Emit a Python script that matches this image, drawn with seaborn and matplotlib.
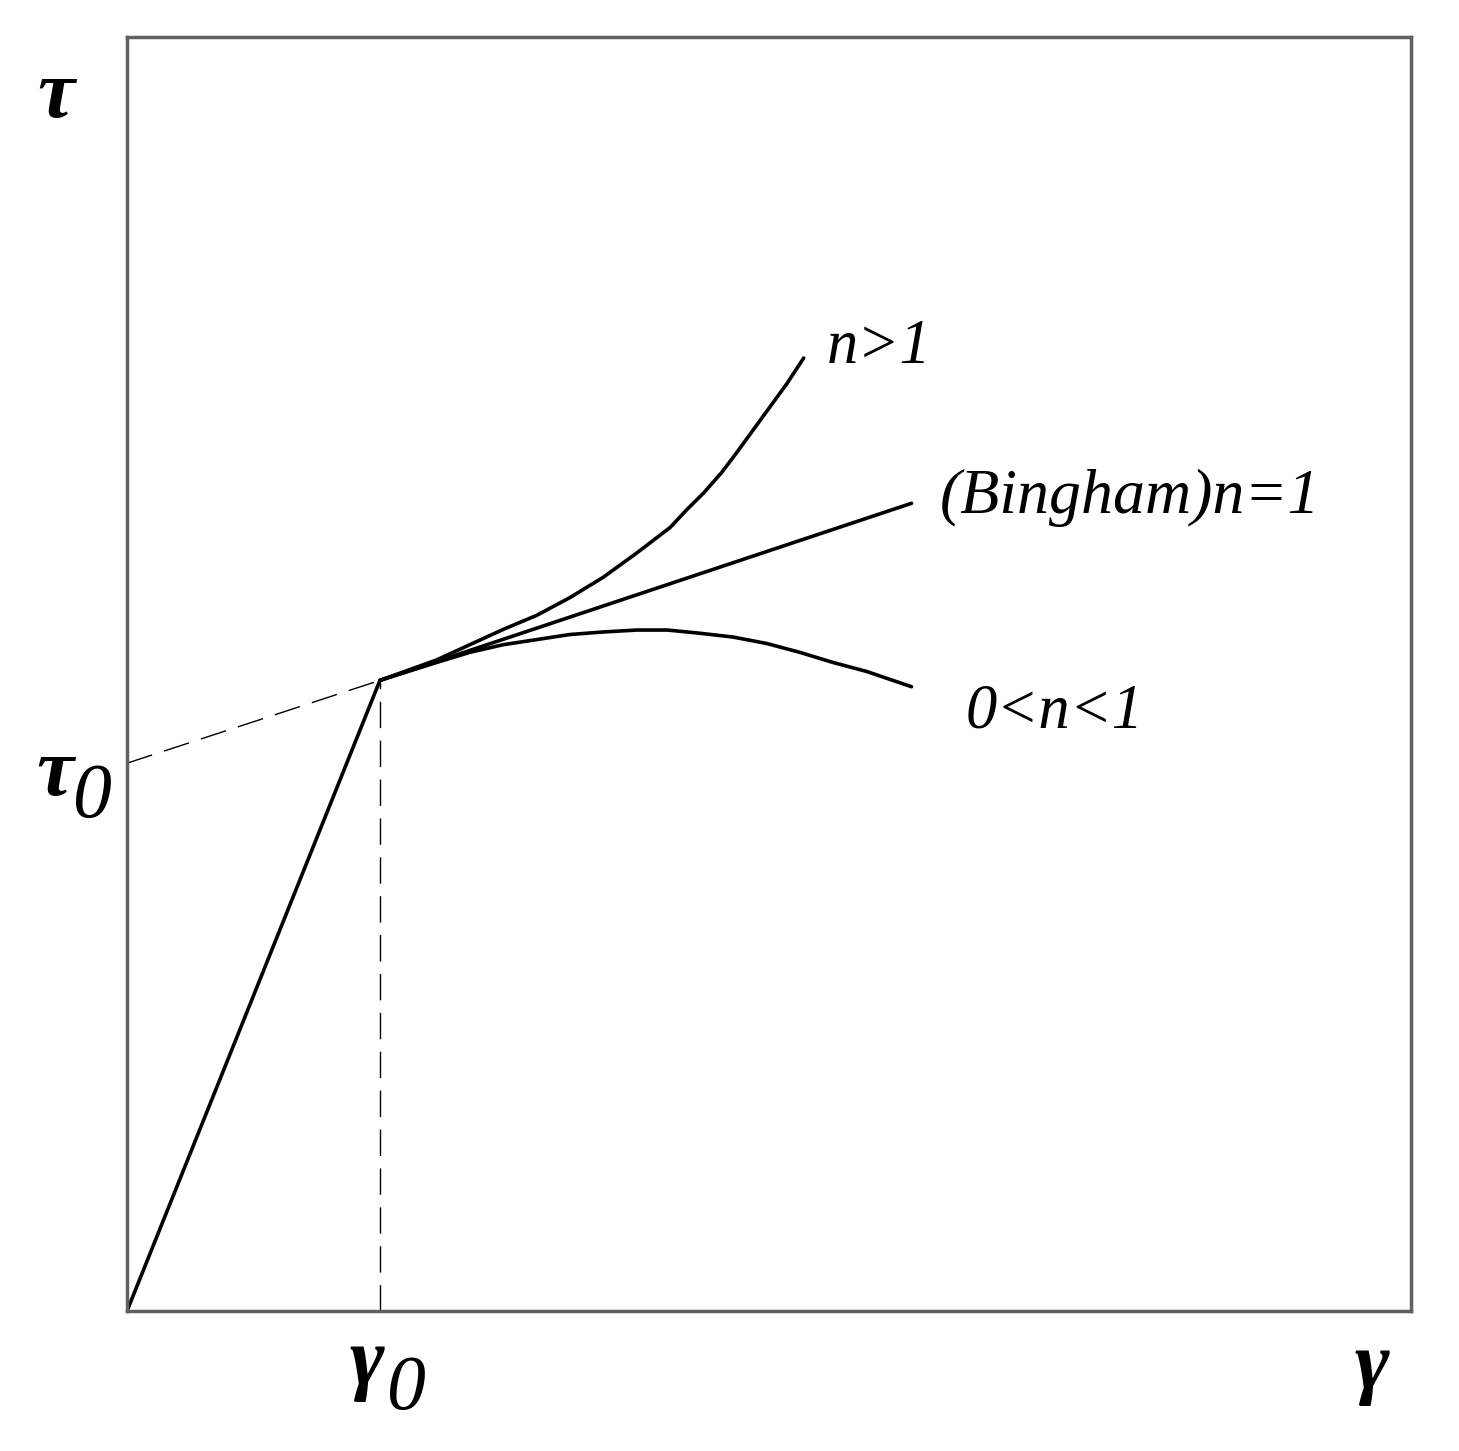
import numpy as np
import pandas as pd
import matplotlib
matplotlib.use("Agg")
import matplotlib.pyplot as plt
import seaborn as sns

# flow curve data (arbitrary units, 0-10 on both axes)
gamma0 = 1.97
tau_yield = 4.95
tau0 = 4.30

elastic_x = [0.0, gamma0]
elastic_y = [0.0, tau_yield]

bingham_x = [gamma0, 6.11]
bingham_y = [tau_yield, 6.34]

thick_x = [gamma0, 2.41, 2.67, 2.93, 3.19, 3.45, 3.71, 3.97, 4.10, 4.23,
           4.36, 4.49, 4.63, 4.75, 4.88, 5.01, 5.14, 5.27]
thick_y = [tau_yield, 5.11, 5.23, 5.35, 5.46, 5.60, 5.76, 5.95, 6.05, 6.15,
           6.29, 6.42, 6.58, 6.74, 6.92, 7.10, 7.28, 7.48]

thin_x = [gamma0, 2.41, 2.67, 2.93, 3.19, 3.45, 3.71, 3.97, 4.21, 4.46,
          4.72, 4.98, 5.24, 5.50, 5.76, 6.11]
thin_y = [tau_yield, 5.09, 5.17, 5.23, 5.27, 5.31, 5.33, 5.345, 5.345, 5.32,
          5.29, 5.24, 5.17, 5.09, 5.02, 4.90]

W, H = 1459, 1451


def px(x, y):
    return x / W, 1 - y / H


def curve(name, xs, ys):
    return pd.DataFrame({"curve": name, "x": xs, "y": ys})


df = pd.concat([
    curve("elastic", elastic_x, elastic_y),
    curve("bingham", bingham_x, bingham_y),
    curve("thick", thick_x, thick_y),
    curve("thin", thin_x, thin_y),
])

sns.set_style("white")
plt.rcParams["font.family"] = ["Liberation Serif", "DejaVu Serif"]

fig = plt.figure(figsize=(W / 100, H / 100), dpi=100)
ax = fig.add_axes([127 / W, 140 / H, 1284 / W, 1274 / H])

sns.lineplot(data=df, x="x", y="y", units="curve", estimator=None, sort=False,
             color="black", linewidth=2.6, ax=ax)

# dashed construction lines
dash = (0, (19, 9))
ax.plot([0, gamma0], [tau0, tau_yield], color="black", lw=1.0, linestyle=dash)
ax.plot([gamma0, gamma0], [0, tau_yield], color="black", lw=1.0, linestyle=dash)

ax.set_xlim(0, 10)
ax.set_ylim(0, 10)
ax.set_xticks([])
ax.set_yticks([])
ax.set_xlabel("")
ax.set_ylabel("")
for s in ax.spines.values():
    s.set_color("#606060")
    s.set_linewidth(2.5)

greek = dict(fontsize=60, style="italic", fontweight="bold", color="black")
sub = dict(fontsize=56, style="italic", color="black")
lab = dict(fontsize=45, style="italic", color="black")

fig.text(*px(37, 117), "τ", ha="left", va="baseline", **greek)
fig.text(*px(36, 795), "τ", ha="left", va="baseline", **greek)
fig.text(*px(73, 817), "0", ha="left", va="baseline", **sub)
fig.text(*px(350, 1384), "γ", ha="left", va="baseline", **greek)
fig.text(*px(387, 1409), "0", ha="left", va="baseline", **sub)
fig.text(*px(1355, 1388), "γ", ha="left", va="baseline", **greek)

fig.text(*px(827, 363), "n>1", ha="left", va="baseline", **lab)
fig.text(*px(940, 513), "(Bingham)n=1", ha="left", va="baseline", fontsize=46,
         style="italic", color="black")
fig.text(*px(966, 728), "0<n<1", ha="left", va="baseline", **lab)

fig.savefig("out.png", dpi=100)
